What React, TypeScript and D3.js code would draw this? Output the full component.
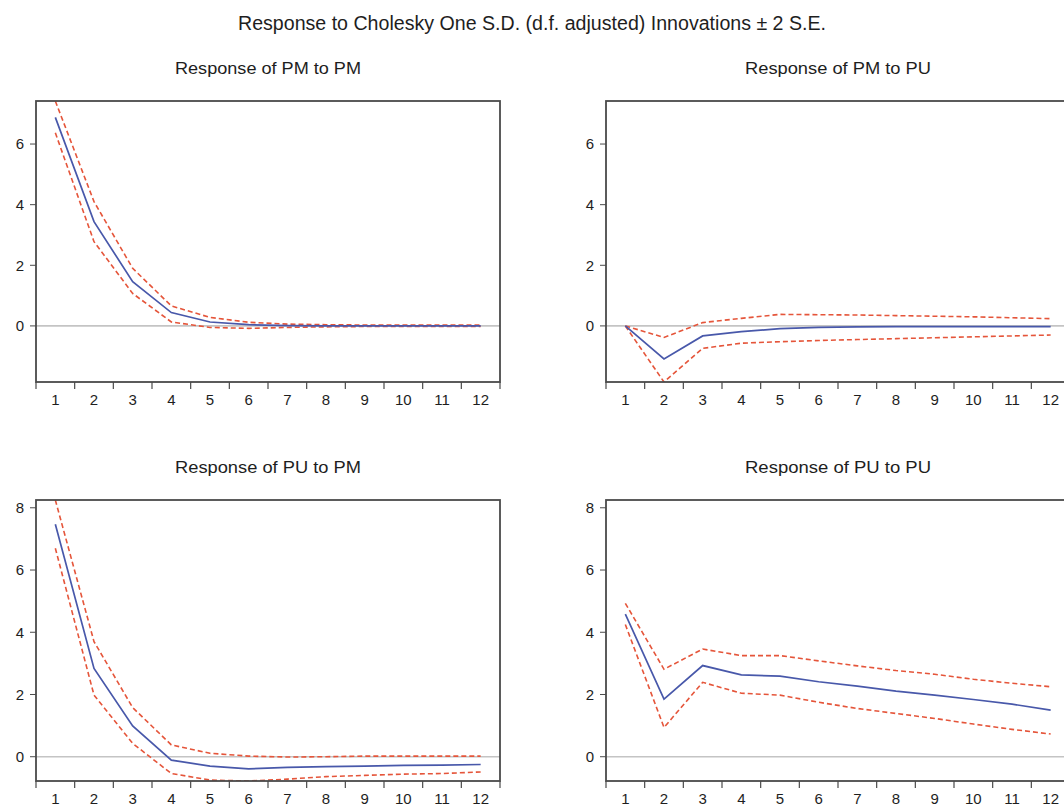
import React from "react";
import * as d3 from "d3";

// horizon (periods)
const periods = [1, 2, 3, 4, 5, 6, 7, 8, 9, 10, 11, 12];

// Response of PM to PM
const pmPmMid = [6.88, 3.44, 1.46, 0.44, 0.13, 0.04, 0.01, 0.0, 0.0, 0.0, 0.0, 0.0];
const pmPmUp = [7.42, 4.1, 1.9, 0.66, 0.28, 0.12, 0.06, 0.04, 0.03, 0.03, 0.03, 0.03];
const pmPmLo = [6.37, 2.78, 1.07, 0.13, -0.05, -0.08, -0.05, -0.03, -0.02, -0.02, -0.02, -0.02];

// Response of PM to PU
const pmPuMid = [0, -1.09, -0.33, -0.19, -0.09, -0.05, -0.03, -0.02, -0.02, -0.02, -0.02, -0.02];
const pmPuUp = [0, -0.38, 0.11, 0.25, 0.38, 0.37, 0.36, 0.34, 0.32, 0.3, 0.27, 0.24];
const pmPuLo = [0, -1.85, -0.74, -0.57, -0.52, -0.48, -0.45, -0.42, -0.39, -0.36, -0.33, -0.3];

// Response of PU to PM
const puPmMid = [7.47, 2.84, 0.99, -0.11, -0.3, -0.39, -0.34, -0.32, -0.3, -0.28, -0.27, -0.25];
const puPmUp = [8.25, 3.7, 1.58, 0.38, 0.11, 0.02, -0.01, 0.0, 0.02, 0.02, 0.02, 0.02];
const puPmLo = [6.7, 1.98, 0.43, -0.54, -0.75, -0.78, -0.72, -0.64, -0.6, -0.56, -0.54, -0.49];

// Response of PU to PU
const puPuMid = [4.58, 1.85, 2.93, 2.63, 2.59, 2.41, 2.27, 2.11, 1.98, 1.84, 1.69, 1.5];
const puPuUp = [4.93, 2.81, 3.46, 3.25, 3.25, 3.08, 2.92, 2.77, 2.65, 2.49, 2.36, 2.25];
const puPuLo = [4.25, 0.94, 2.39, 2.04, 1.98, 1.75, 1.55, 1.39, 1.23, 1.05, 0.88, 0.73];

const topTicks = [0, 2, 4, 6];
const bottomTicks = [0, 2, 4, 6, 8];

const FONT = "'Liberation Sans', Arial, sans-serif";
const BLUE = "#4858aa";
const RED = "#e5553a";
const INK = "#1e1e1e";

type PanelProps = {
  id: string;
  title: string;
  left: number;
  top: number;
  mid: number[];
  up: number[];
  lo: number[];
  domain: [number, number];
  ticks: number[];
};

const W = 464;
const H = 281;

function Panel({ id, title, left, top, mid, up, lo, domain, ticks }: PanelProps) {
  const x = d3.scaleLinear().domain([0.5, 12.5]).range([left, left + W]);
  const y = d3.scaleLinear().domain(domain).range([top + H, top]);
  const line = d3
    .line<number>()
    .x((_, i) => x(periods[i]))
    .y((d) => y(d));
  const bounds = d3.range(0.5, 13, 1);

  return (
    <g>
      <clipPath id={id}>
        <rect x={left} y={top} width={W} height={H} />
      </clipPath>
      <text
        x={left + W / 2}
        y={top - 27}
        textAnchor="middle"
        fontSize={17}
        textLength={186}
        lengthAdjust="spacingAndGlyphs"
        fill={INK}
      >
        {title}
      </text>
      <rect x={left} y={top} width={W} height={H} fill="#fff" />
      <line
        x1={left}
        x2={left + W}
        y1={y(0)}
        y2={y(0)}
        stroke="#c4c4c4"
        strokeWidth={1.6}
      />
      <g clipPath={`url(#${id})`}>
        <path d={line(up) || ""} fill="none" stroke={RED} strokeWidth={1.6} strokeDasharray="5,3" />
        <path d={line(lo) || ""} fill="none" stroke={RED} strokeWidth={1.6} strokeDasharray="5,3" />
        <path d={line(mid) || ""} fill="none" stroke={BLUE} strokeWidth={1.7} />
      </g>
      <rect x={left} y={top} width={W} height={H} fill="none" stroke="#4a4a4a" strokeWidth={1.8} />
      {/* y axis */}
      {ticks.map((t) => (
        <g key={t}>
          <line x1={left - 6} x2={left} y1={y(t)} y2={y(t)} stroke="#4a4a4a" />
          <text
            x={left - 12}
            y={y(t)}
            dy="0.35em"
            textAnchor="end"
            fontSize={15}
            fill={INK}
          >
            {t}
          </text>
        </g>
      ))}
      {/* x axis */}
      {bounds.map((b) => (
        <line key={b} x1={x(b)} x2={x(b)} y1={top + H} y2={top + H + 7} stroke="#4a4a4a" strokeWidth={1.2} />
      ))}
      {periods.map((p) => (
        <text
          key={p}
          x={x(p)}
          y={top + H + 23}
          textAnchor="middle"
          fontSize={15}
          fill={INK}
        >
          {p}
        </text>
      ))}
    </g>
  );
}

export default function App() {
  const topExt = d3.extent([...pmPmUp, ...pmPmLo, ...pmPuUp, ...pmPuLo]) as [number, number];
  const botExt = d3.extent([...puPmUp, ...puPmLo, ...puPuUp, ...puPuLo]) as [number, number];

  return (
    <svg
      width={1064}
      height={806}
      style={{ position: "absolute", left: 0, top: 0, background: "#fff", fontFamily: FONT }}
    >
      <text
        x={532}
        y={30}
        textAnchor="middle"
        fontSize={20}
        textLength={588}
        lengthAdjust="spacingAndGlyphs"
        fill={INK}
      >
        Response to Cholesky One S.D. (d.f. adjusted) Innovations ± 2 S.E.
      </text>
      <Panel id="c1" title="Response of PM to PM" left={36} top={101} mid={pmPmMid} up={pmPmUp} lo={pmPmLo} domain={topExt} ticks={topTicks} />
      <Panel id="c2" title="Response of PM to PU" left={606} top={101} mid={pmPuMid} up={pmPuUp} lo={pmPuLo} domain={topExt} ticks={topTicks} />
      <Panel id="c3" title="Response of PU to PM" left={36} top={500} mid={puPmMid} up={puPmUp} lo={puPmLo} domain={botExt} ticks={bottomTicks} />
      <Panel id="c4" title="Response of PU to PU" left={606} top={500} mid={puPuMid} up={puPuUp} lo={puPuLo} domain={botExt} ticks={bottomTicks} />
    </svg>
  );
}
